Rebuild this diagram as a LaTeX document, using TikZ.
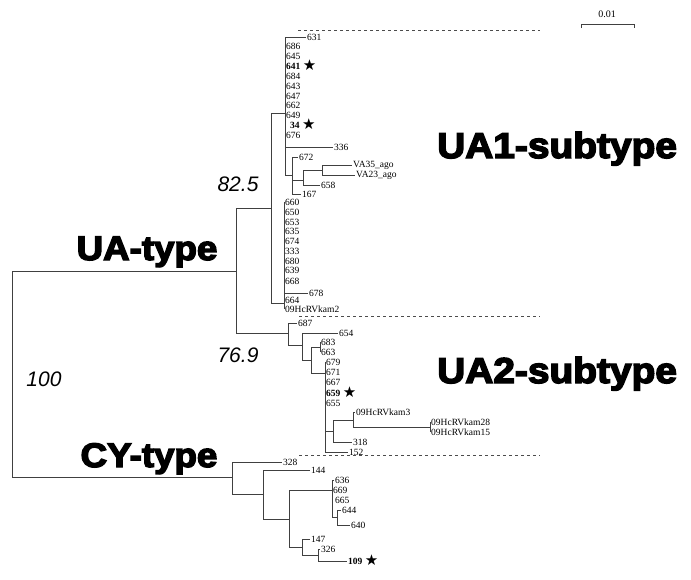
\documentclass[tikz,border=0pt]{standalone}
\usepackage{fontspec}
\setmainfont{Liberation Serif}
\newfontfamily\numfont{Liberation Sans}
\newfontfamily\heavyfont{Liberation Sans}[FakeBold=4]
\newfontfamily\symfont{DejaVu Sans}
\newcommand{\starmark}{\smash{\raisebox{-1.5pt}{\symfont\fontsize{15}{15}\selectfont ★}}}
\newcommand{\wide}[1]{\scalebox{1.08}[1]{#1}}

\begin{document}
\begin{tikzpicture}[x=1pt, y=-1pt]
		\tikzstyle{branch}=[draw=black!75, line width=0.7pt, to path={|- (\tikztotarget)}]
		\tikzstyle{leaf}=[anchor=west, inner sep=1pt, font=\fontsize{9.5}{10}\selectfont]
		\tikzstyle{boot}=[inner sep=0pt, font=\numfont\itshape\fontsize{21}{21}\selectfont]
		\tikzstyle{group}=[inner sep=0pt, anchor=base, font=\heavyfont\bfseries\fontsize{34}{34}\selectfont]
		\tikzstyle{sep}=[dashed, draw=black!70, line width=0.6pt]
		\useasboundingbox (0,0) rectangle (691,579);
		% inner nodes of the tree
		\coordinate (root) at (12,374);
		\coordinate (ua) at (236,271);
		\coordinate (cy) at (232,477);
		\coordinate (a1) at (271,208);
		\coordinate (a2) at (285,113);
		\coordinate (a3) at (292,175);
		\coordinate (a4) at (303,180);
		\coordinate (a5) at (322,170);
		\coordinate (a6) at (284,303);
		\coordinate (a7) at (288,333);
		\coordinate (a8) at (302,345);
		\coordinate (a9) at (311,360);
		\coordinate (a10) at (320,347);
		\coordinate (a11) at (325,373);
		\coordinate (a12) at (333,431);
		\coordinate (a13) at (353,420);
		\coordinate (a14) at (430,427);
		\coordinate (a15) at (263,494);
		\coordinate (a16) at (289,519);
		\coordinate (a17) at (332,490);
		\coordinate (a18) at (337,517);
		\coordinate (a19) at (302,547);
		\coordinate (a20) at (318,555);
		% UA1 leaves
		\node[leaf] (l631) at (306,37) {631};
		\node[leaf] (l686) at (285,46) {686};
		\node[leaf] (l645) at (285,56) {645};
		\node[leaf] (l641) at (285,66) {\textbf{641}~\starmark};
		\node[leaf] (l684) at (285,76) {684};
		\node[leaf] (l643) at (285,86) {643};
		\node[leaf] (l647) at (285,96) {647};
		\node[leaf] (l662) at (285,105) {662};
		\node[leaf] (l649) at (285,115) {649};
		\node[leaf] (l34) at (289,125) {\textbf{34}~\starmark};
		\node[leaf] (l676) at (285,135) {676};
		\node[leaf] (l336) at (333,147) {336};
		\node[leaf] (l672) at (298,157) {672};
		\node[leaf] (lva35) at (352,165) {VA35\_ago};
		\node[leaf] (lva23) at (355,175) {VA23\_ago};
		\node[leaf] (l658) at (320,185) {658};
		\node[leaf] (l167) at (301,194) {167};
		\node[leaf] (l660) at (284,202) {660};
		\node[leaf] (l650) at (284,212) {650};
		\node[leaf] (l653) at (284,222) {653};
		\node[leaf] (l635) at (284,231) {635};
		\node[leaf] (l674) at (284,241) {674};
		\node[leaf] (l333) at (284,251) {333};
		\node[leaf] (l680) at (284,261) {680};
		\node[leaf] (l639) at (284,270) {639};
		\node[leaf] (l668) at (284,281) {668};
		\node[leaf] (l678) at (308,293) {678};
		\node[leaf] (l664) at (284,300) {664};
		\node[leaf] (lkam2) at (284,309) {09HcRVkam2};
		% UA2 leaves
		\node[leaf] (l687) at (297,323) {687};
		\node[leaf] (l654) at (338,333) {654};
		\node[leaf] (l683) at (320,342) {683};
		\node[leaf] (l663) at (320,352) {663};
		\node[leaf] (l679) at (325,362) {679};
		\node[leaf] (l671) at (325,372) {671};
		\node[leaf] (l667) at (325,382) {667};
		\node[leaf] (l659) at (325,393) {\textbf{659}~\starmark};
		\node[leaf] (l655) at (325,403) {655};
		\node[leaf] (lkam3) at (355,412) {09HcRVkam3};
		\node[leaf] (lkam28) at (430,422) {09HcRVkam28};
		\node[leaf] (lkam15) at (430,432) {09HcRVkam15};
		\node[leaf] (l318) at (352,442) {318};
		\node[leaf] (l152) at (348,452) {152};
		% CY leaves
		\node[leaf] (l328) at (282,462) {328};
		\node[leaf] (l144) at (310,470) {144};
		\node[leaf] (l636) at (334,480) {636};
		\node[leaf] (l669) at (332,490) {669};
		\node[leaf] (l665) at (334,500) {665};
		\node[leaf] (l644) at (341,510) {644};
		\node[leaf] (l640) at (350,525) {640};
		\node[leaf] (l147) at (310,539) {147};
		\node[leaf] (l326) at (320,549) {326};
		\node[leaf] (l109) at (347,561) {\textbf{109}~\starmark};
		% support values and group names
		\node[boot] (b825) at (238,184) {82.5};
		\node[boot] (b769) at (238,355) {76.9};
		\node[boot] (b100) at (44,379) {100};
		\node[group] (gua) at (147,260) {\wide{UA-type}};
		\node[group] (gcy) at (149,467) {\wide{CY-type}};
		\node[group, anchor=base west, font=\heavyfont\bfseries\fontsize{36}{36}\selectfont] (gua1) at (437,158) {\wide{UA1-subtype}};
		\node[group, anchor=base west, font=\heavyfont\bfseries\fontsize{36}{36}\selectfont] (gua2) at (437,383) {\wide{UA2-subtype}};
		% scale bar
		\coordinate (s1) at (581,24);
		\coordinate (s2) at (634,24);
		\node[font=\fontsize{10}{10}\selectfont, inner sep=1pt] (scale) at (607,14) {0.01};
		\draw[black!75, line width=0.7pt] ([yshift=-4pt]s1) -- (s1) -- (s2) -- ([yshift=-4pt]s2);
		% clade separators
		\draw[sep] (298,30) -- (540,30);
		\draw[sep] (299,316) -- (540,316);
		\draw[sep] (299,455) -- (540,455);
		\path
		(root) edge [branch] (ua)
		(root) edge [branch] (cy)
		(ua) edge [branch] (a1)
		(ua) edge [branch] (a7)
		(a1) edge [branch] (a2)
		(a1) edge [branch] (a6)
		(a2) edge [branch] (l631.west)
		(a2) edge [branch] (l686.west)
		(a2) edge [branch] (l676.west)
		(a2) edge [branch] (l336.west)
		(a2) edge [branch] (a3)
		(a3) edge [branch] (l672.west)
		(a3) edge [branch] (a4)
		(a3) edge [branch] (l167.west)
		(a4) edge [branch] (a5)
		(a4) edge [branch] (l658.west)
		(a5) edge [branch] (lva35.west)
		(a5) edge [branch] (lva23.west)
		(a6) edge [branch] (l660.west)
		(a6) edge [branch] (l678.west)
		(a6) edge [branch] (lkam2.west)
		(a7) edge [branch] (l687.west)
		(a7) edge [branch] (a8)
		(a8) edge [branch] (l654.west)
		(a8) edge [branch] (a9)
		(a9) edge [branch] (a10)
		(a9) edge [branch] (a11)
		(a10) edge [branch] (l683.west)
		(a10) edge [branch] (l663.west)
		(a11) edge [branch] (l679.west)
		(a11) edge [branch] (a12)
		(a11) edge [branch] (l152.west)
		(a12) edge [branch] (a13)
		(a12) edge [branch] (l318.west)
		(a13) edge [branch] (lkam3.west)
		(a13) edge [branch] (a14)
		(a14) edge [branch] (lkam28.west)
		(a14) edge [branch] (lkam15.west)
		(cy) edge [branch] (l328.west)
		(cy) edge [branch] (a15)
		(a15) edge [branch] (l144.west)
		(a15) edge [branch] (a16)
		(a16) edge [branch] (a17)
		(a16) edge [branch] (a19)
		(a17) edge [branch] (l636.west)
		(a17) edge [branch] (a18)
		(a18) edge [branch] (l644.west)
		(a18) edge [branch] (l640.west)
		(a19) edge [branch] (l147.west)
		(a19) edge [branch] (a20)
		(a20) edge [branch] (l326.west)
		(a20) edge [branch] (l109.west)
		;
	\end{tikzpicture}
\end{document}
